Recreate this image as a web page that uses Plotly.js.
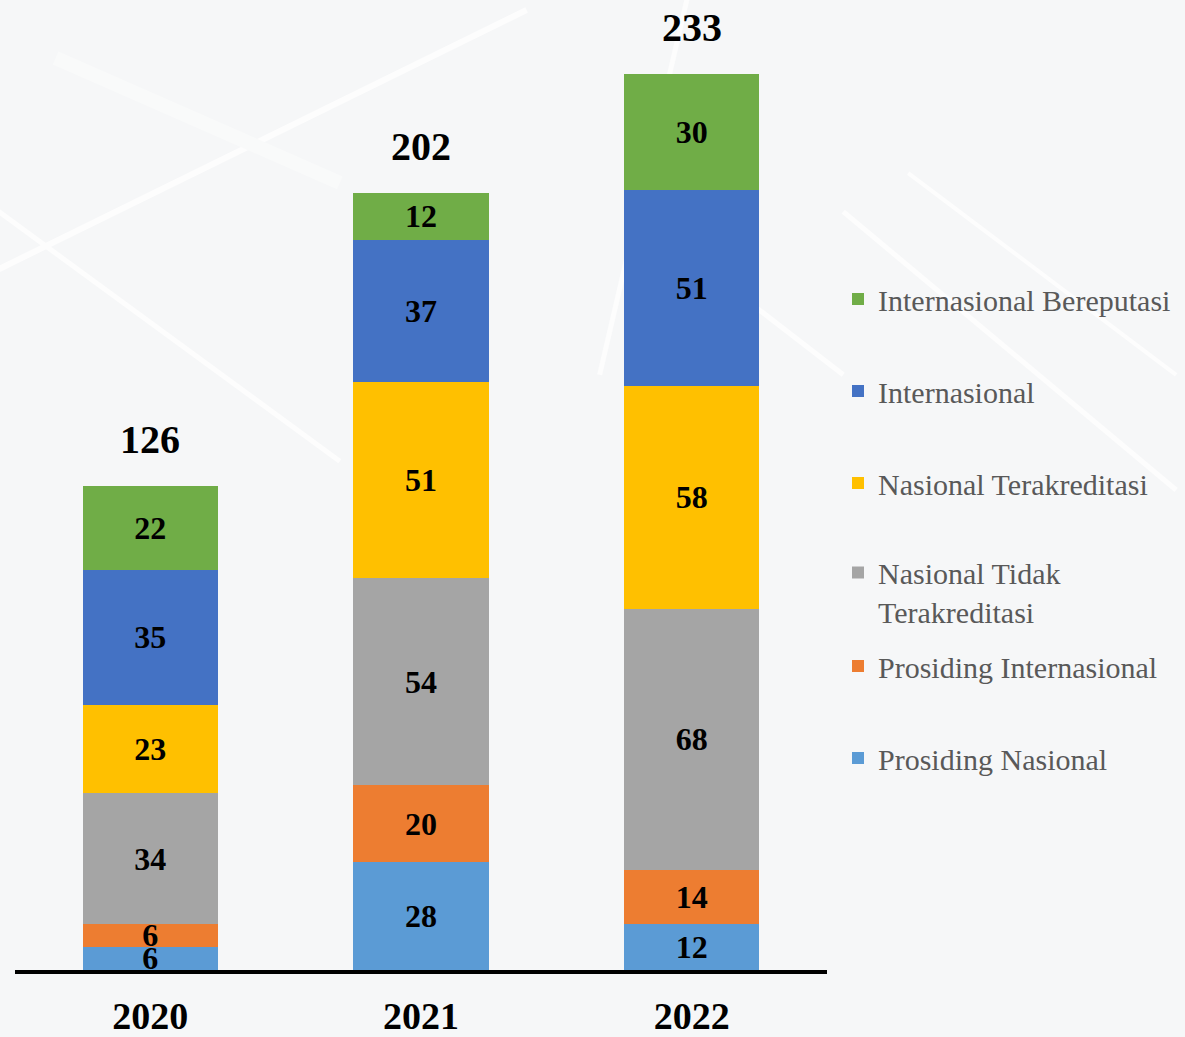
<!DOCTYPE html>
<html>
<head>
<meta charset="utf-8">
<script src="https://cdn.plot.ly/plotly-3.0.1.min.js"></script>
<style>html,body{margin:0;padding:0;background:#fff;}#chart{width:1185px;height:1037px;}</style>
</head>
<body>
<div id="chart"></div>
<script>
const years = ['2020', '2021', '2022'];
const seriesNames = ['Prosiding Nasional', 'Prosiding Internasional', 'Nasional Tidak<br>Terakreditasi', 'Nasional Terakreditasi', 'Internasional', 'Internasional Bereputasi'];
const prosidingNasional = [6, 28, 12];
const prosidingInternasional = [6, 20, 14];
const nasionalTidakTerakreditasi = [34, 54, 68];
const nasionalTerakreditasi = [23, 51, 58];
const internasional = [35, 37, 51];
const internasionalBereputasi = [22, 12, 30];
const colors = ['#5B9BD5', '#ED7D31', '#A5A5A5', '#FFC000', '#4472C4', '#70AD47'];

const seriesValues = [prosidingNasional, prosidingInternasional, nasionalTidakTerakreditasi, nasionalTerakreditasi, internasional, internasionalBereputasi];
const totals = years.map((_, i) => seriesValues.reduce((s, arr) => s + arr[i], 0));

// legend text centre rows (pixels from top), one legend per series
const legendRows = [758, 666, 575, 483, 391, 299];
const H = 1037, W = 1185;

const traces = seriesValues.map((vals, k) => ({
  type: 'bar',
  x: years,
  y: vals,
  name: seriesNames[k],
  marker: {color: colors[k], line: {width: 0}},
  texttemplate: '<b>%{y}</b>',
  textposition: 'inside',
  insidetextanchor: 'middle',
  textangle: 0,
  constraintext: 'none',
  cliponaxis: false,
  textfont: {family: 'Liberation Serif', size: 32, color: '#000000'},
  hoverinfo: 'x+y+name',
  legend: k === 0 ? 'legend' : 'legend' + (k + 1)
}));

const layout = {
  width: W, height: H,
  barmode: 'stack',
  bargap: 0.5,
  paper_bgcolor: '#f6f7f8',
  plot_bgcolor: 'rgba(0,0,0,0)',
  margin: {l: 15, r: 358, t: 10, b: 67},
  showlegend: true,
  xaxis: {
    type: 'category',
    range: [-0.5, 2.5], autorange: false,
    showline: true, linecolor: '#000000', linewidth: 4,
    showgrid: false, zeroline: false, ticks: '',
    ticklabelstandoff: 9,
    tickfont: {family: 'Liberation Serif', size: 38, color: '#000000', weight: 'bold'},
    fixedrange: true
  },
  yaxis: {
    range: [0, 249.7], autorange: false,
    visible: false, showgrid: false, zeroline: false,
    fixedrange: true
  },
  annotations: years.map((yr, i) => ({
    x: i, y: totals[i], xref: 'x', yref: 'y',
    text: '<b>' + totals[i] + '</b>',
    showarrow: false, yanchor: 'bottom', yshift: 22,
    font: {family: 'Liberation Serif', size: 40, color: '#000000'}
  })),
  shapes: [
    {type: 'line', xref: 'paper', yref: 'paper', layer: 'below', x0: -0.02, y0: 0.73, x1: 0.63, y1: 1.0, line: {color: '#fdfdfd', width: 6}},
    {type: 'line', xref: 'paper', yref: 'paper', layer: 'below', x0: -0.02, y0: 0.79, x1: 0.40, y1: 0.53, line: {color: '#fdfdfd', width: 5}},
    {type: 'line', xref: 'paper', yref: 'paper', layer: 'below', x0: 0.05, y0: 0.95, x1: 0.40, y1: 0.82, line: {color: '#f9fafa', width: 14}},
    {type: 'line', xref: 'paper', yref: 'paper', layer: 'below', x0: 0.83, y0: 1.02, x1: 0.72, y1: 0.62, line: {color: '#fdfdfd', width: 5}},
    {type: 'line', xref: 'paper', yref: 'paper', layer: 'below', x0: 0.76, y0: 0.79, x1: 1.02, y1: 0.62, line: {color: '#fdfdfd', width: 5}},
    {type: 'line', xref: 'paper', yref: 'paper', layer: 'below', x0: 1.02, y0: 0.79, x1: 1.43, y1: 0.50, line: {color: '#fdfdfd', width: 5}},
    {type: 'line', xref: 'paper', yref: 'paper', layer: 'below', x0: 1.10, y0: 0.83, x1: 1.43, y1: 0.62, line: {color: '#fdfdfd', width: 4}}
  ]
};

seriesValues.forEach((_, k) => {
  const key = k === 0 ? 'legend' : 'legend' + (k + 1);
  const rowY = legendRows[k] + (k === 2 ? 17 : 0);
  layout[key] = {
    xref: 'container', yref: 'container',
    x: 838 / W, y: 1 - rowY / H,
    xanchor: 'left', yanchor: 'middle',
    bgcolor: 'rgba(0,0,0,0)', borderwidth: 0,
    valign: 'top',
    font: {family: 'Liberation Serif', size: 30, color: '#595959'},
    itemclick: false, itemdoubleclick: false
  };
});

Plotly.newPlot('chart', traces, layout, {displayModeBar: false, staticPlot: true});
</script>
</body>
</html>
